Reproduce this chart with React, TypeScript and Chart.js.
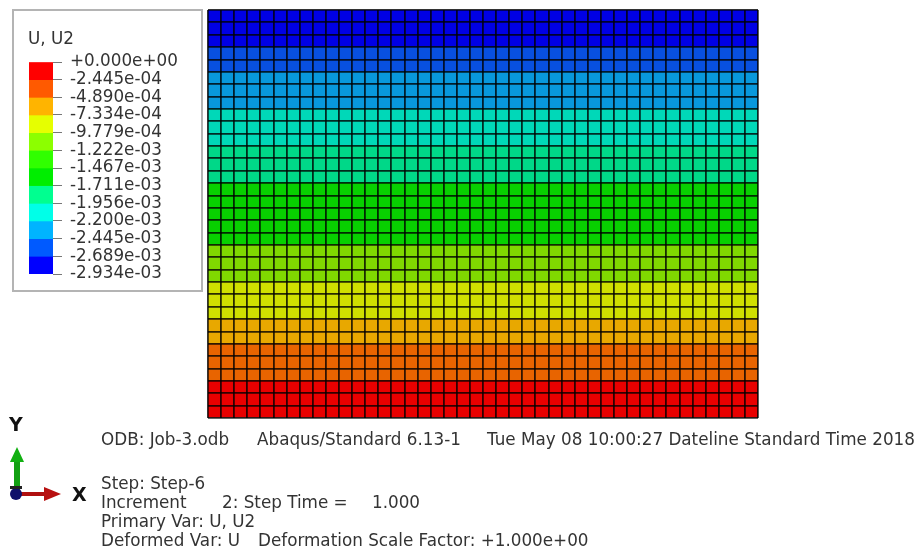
import React, { useEffect, useRef } from "react";
import { Chart, registerables } from "chart.js";

Chart.register(...registerables);

const FONT = '"DejaVu Sans", Verdana, sans-serif';

// Contour levels of U2 (legend, top to bottom)
const legendTicks = [
  0, -2.445e-4, -4.89e-4, -7.334e-4, -9.779e-4, -1.222e-3, -1.467e-3, -1.711e-3, -1.956e-3, -2.2e-3,
  -2.445e-3, -2.689e-3, -2.934e-3,
];
const legendLabels = [
  "+0.000e+00", "-2.445e-04", "-4.890e-04", "-7.334e-04", "-9.779e-04", "-1.222e-03", "-1.467e-03",
  "-1.711e-03", "-1.956e-03", "-2.200e-03", "-2.445e-03", "-2.689e-03", "-2.934e-03",
];
const legendColors = [
  "#ff0000", "#ff5a00", "#ffb400", "#e6ff00", "#8cff00", "#30ff00", "#00ee00",
  "#00ff90", "#00ffe8", "#00b4ff", "#005aff", "#0000ff",
];

// Shaded mesh: band colours and the band of each element row, top to bottom
const bandColors = [
  "#0000e4", "#0850e0", "#0898dc", "#00d8b8", "#00d888", "#08d000",
  "#80d800", "#d0e000", "#e8a800", "#e86400", "#e80000",
];
const rowBands = [
  0, 0, 0, 1, 1, 2, 2, 2, 3, 3, 3, 4, 4, 4, 5, 5, 5, 5, 5, 6, 6, 6, 7, 7, 7, 8, 8, 9, 9, 9, 10, 10, 10,
];
const columns = Array.from({ length: 42 }, (_, i) => String(i + 1));

const textStyle: React.CSSProperties = {
  position: "absolute",
  fontFamily: FONT,
  color: "#333",
  whiteSpace: "pre",
  lineHeight: "20px",
  fontSize: 16.8,
  filter: "blur(0.35px)",
};

const notes: [number, number, string][] = [
  [101, 429, "ODB: Job-3.odb"],
  [257, 429, "Abaqus/Standard 6.13-1"],
  [487, 429, "Tue May 08 10:00:27 Dateline Standard Time 2018"],
  [101, 473, "Step: Step-6"],
  [101, 492, "Increment"],
  [222, 492, "2: Step Time ="],
  [372, 492, "1.000"],
  [101, 511, "Primary Var: U, U2"],
  [101, 530, "Deformed Var: U"],
  [258, 530, "Deformation Scale Factor: +1.000e+00"],
];

const MESH_LINE = "rgba(0,0,0,0.8)";

export default function App() {
  const meshRef = useRef<HTMLCanvasElement>(null);
  const legendRef = useRef<HTMLCanvasElement>(null);

  useEffect(() => {
    const mesh = new Chart(meshRef.current!, {
      type: "bar",
      data: {
        labels: columns,
        datasets: [...rowBands].reverse().map((band, i) => ({
          label: `row ${i + 1}`,
          data: columns.map(() => 1),
          backgroundColor: bandColors[band],
          borderWidth: 0,
          inflateAmount: 0.5,
          barPercentage: 1,
          categoryPercentage: 1,
        })),
      },
      options: {
        responsive: false,
        animation: false,
        layout: { padding: { left: 208, top: 10, right: 161, bottom: 132 } },
        plugins: { legend: { display: false }, tooltip: { enabled: false } },
        scales: {
          x: {
            stacked: true,
            offset: true,
            border: { display: false },
            grid: { color: MESH_LINE, lineWidth: 1.8, drawTicks: false, offset: true, z: 1 },
            ticks: { display: false, padding: 0 },
          },
          y: {
            stacked: true,
            min: 0,
            max: rowBands.length,
            border: { display: false },
            grid: { color: MESH_LINE, lineWidth: 1.8, drawTicks: false, z: 1 },
            afterBuildTicks: (s: any) => {
              s.ticks = rowBands.map((_, i) => ({ value: i })).concat([{ value: rowBands.length }]);
            },
            ticks: { display: false, padding: 0, autoSkip: false },
          },
        },
      },
    });

    const legend = new Chart(legendRef.current!, {
      type: "bar",
      data: {
        labels: ["U2"],
        datasets: legendColors.map((c, i) => ({
          label: legendLabels[i],
          data: [[legendTicks[i + 1], legendTicks[i]]] as any,
          backgroundColor: c,
          borderWidth: 0,
          barPercentage: 1,
          categoryPercentage: 1,
          grouped: false,
        })),
      },
      options: {
        responsive: false,
        animation: false,
        layout: { padding: { left: 29, top: 62, right: 0, bottom: 26 } },
        plugins: { legend: { display: false }, tooltip: { enabled: false } },
        scales: {
          x: { display: false },
          y: {
            position: "right",
            min: legendTicks[legendTicks.length - 1],
            max: 0,
            border: { display: false },
            grid: { drawOnChartArea: false, drawTicks: true, tickLength: 9, tickColor: "#777", tickWidth: 1 },
            afterFit: (s: any) => {
              s.width = 157;
            },
            afterBuildTicks: (s: any) => {
              s.ticks = legendTicks.map((value) => ({ value }));
            },
            ticks: {
              autoSkip: false,
              maxRotation: 0,
              padding: 8,
              color: "#333",
              font: { family: FONT, size: 16.8 },
              callback: (_v: any, i: number) => legendLabels[i],
            },
          },
        },
      },
    });

    return () => {
      mesh.destroy();
      legend.destroy();
    };
  }, []);

  return (
    <div style={{ position: "fixed", left: 0, top: 0, width: 919, height: 550, background: "#fff", overflow: "hidden" }}>
      <canvas
        ref={meshRef}
        width={919}
        height={550}
        style={{ position: "absolute", left: 0, top: 0, filter: "blur(0.7px)" }}
      />
      <div
        style={{
          position: "absolute",
          left: 12,
          top: 9,
          width: 191,
          height: 283,
          boxSizing: "border-box",
          border: "2px solid #b4b4b4",
          background: "#fff",
        }}
      />
      <canvas
        ref={legendRef}
        width={210}
        height={300}
        style={{ position: "absolute", left: 0, top: 0, filter: "blur(0.35px)" }}
      />
      <div style={{ ...textStyle, left: 28, top: 28 }}>U, U2</div>
      {notes.map(([x, y, t]) => (
        <div key={t} style={{ ...textStyle, left: x, top: y }}>
          {t}
        </div>
      ))}
      <svg width={100} height={80} style={{ position: "absolute", left: 0, top: 440, filter: "blur(0.5px)" }}>
        <rect x={14} y={16} width={6} height={38} fill="#12a012" />
        <polygon points="17,7 10,22 24,22" fill="#12b012" />
        <rect x={20} y={52} width={26} height={4} fill="#b01010" />
        <polygon points="61,54 44,47 44,61" fill="#b81010" />
        <circle cx={16} cy={54} r={6} fill="#10106a" />
        <rect x={10} y={46} width={12} height={3} fill="#222" />
      </svg>
      <div style={{ ...textStyle, left: 9, top: 414, fontSize: 19, fontWeight: 700, color: "#111" }}>Y</div>
      <div style={{ ...textStyle, left: 72, top: 484, fontSize: 19, fontWeight: 700, color: "#111" }}>X</div>
    </div>
  );
}
